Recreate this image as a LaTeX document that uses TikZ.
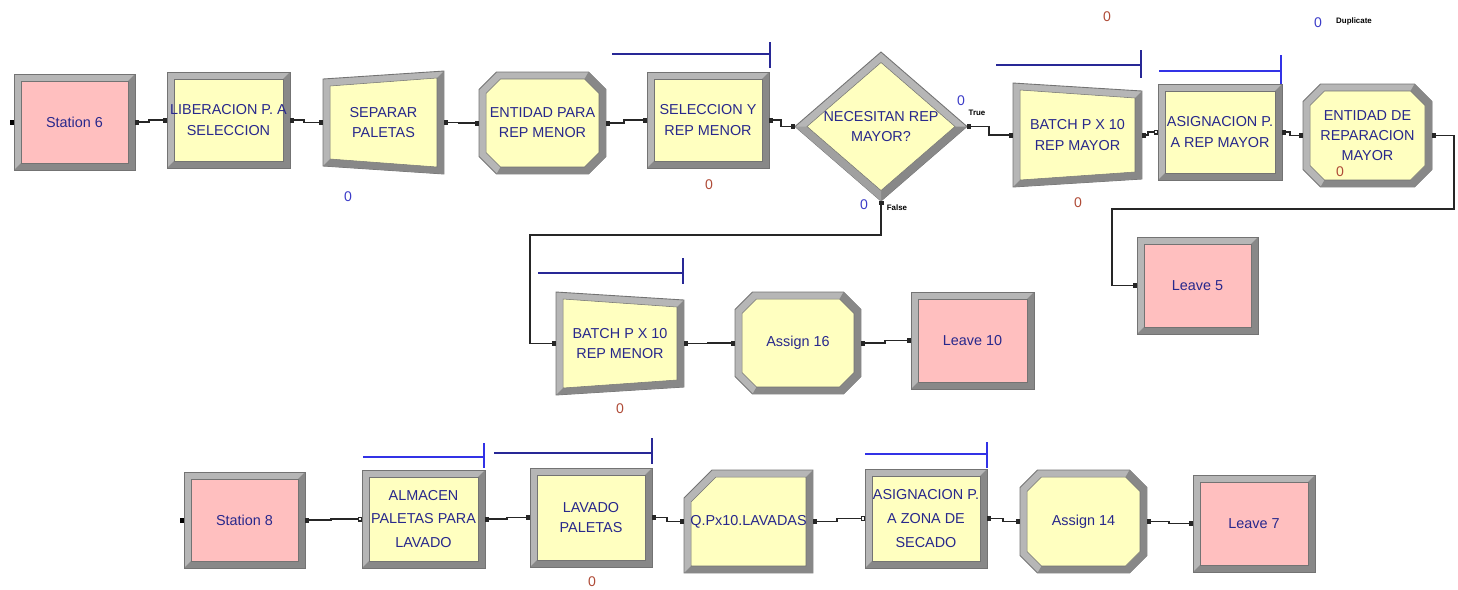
\documentclass[tikz,border=0pt]{standalone}
\usepackage{fontspec}
\setmainfont{Liberation Sans}
\usetikzlibrary{shapes.geometric,arrows.meta,backgrounds}

\definecolor{modpink}{RGB}{255,191,191}
\definecolor{modyellow}{RGB}{255,255,192}
\definecolor{modtext}{RGB}{40,40,140}
\definecolor{bvlite}{RGB}{182,182,182}
\definecolor{bvmid}{RGB}{160,160,160}
\definecolor{bvdark}{RGB}{136,136,136}
\definecolor{bvline}{RGB}{115,115,115}
\definecolor{qnavy}{RGB}{40,40,150}
\definecolor{qblue}{RGB}{50,50,230}
\definecolor{cntblue}{RGB}{60,60,200}
\definecolor{cntbrown}{RGB}{175,75,55}

\newcommand{\modfont}{\fontsize{8.2}{11.5}\selectfont}
\newcommand{\modfontwide}{\fontsize{8.2}{13.5}\selectfont}

% bevelled frames, drawn behind the named module nodes
\newcommand{\bevrect}[2]{%
  \fill[bvlite] (#1.south west) rectangle (#1.north east);
  \fill[bvdark] (#1.south west) -- (#1.south east) -- (#1.north east) -- ([shift={(-0.14cm,-0.14cm)}]#1.north east) -- ([shift={(-0.14cm,0.14cm)}]#1.south east) -- ([shift={(0.14cm,0.14cm)}]#1.south west) -- cycle;
  \filldraw[fill=#2, draw=bvline, line width=0.3pt] ([shift={(0.14cm,0.14cm)}]#1.south west) rectangle ([shift={(-0.14cm,-0.14cm)}]#1.north east);
  \draw[bvline, line width=0.5pt] (#1.south west) rectangle (#1.north east);}
\newcommand{\bevsep}[2]{%
  \filldraw[fill=bvlite, draw=bvline, line width=0.5pt] ([yshift=0.16cm]#1.south west) -- (#1.south east) -- (#1.north east) -- ([yshift=-0.16cm]#1.north west) -- cycle;
  \fill[bvdark] ([yshift=0.16cm]#1.south west) -- (#1.south east) -- (#1.north east) -- ([shift={(-0.14cm,-0.14cm)}]#1.north east) -- ([shift={(-0.14cm,0.14cm)}]#1.south east) -- ([shift={(0.14cm,0.30cm)}]#1.south west) -- cycle;
  \filldraw[fill=#2, draw=bvline, line width=0.3pt] ([shift={(0.14cm,0.30cm)}]#1.south west) -- ([shift={(-0.14cm,0.14cm)}]#1.south east) -- ([shift={(-0.14cm,-0.14cm)}]#1.north east) -- ([shift={(0.14cm,-0.30cm)}]#1.north west) -- cycle;}
\newcommand{\bevbatch}[2]{%
  \filldraw[fill=bvlite, draw=bvline, line width=0.5pt] (#1.south west) -- ([yshift=0.16cm]#1.south east) -- ([yshift=-0.16cm]#1.north east) -- (#1.north west) -- cycle;
  \fill[bvdark] (#1.south west) -- ([yshift=0.16cm]#1.south east) -- ([yshift=-0.16cm]#1.north east) -- ([shift={(-0.14cm,-0.30cm)}]#1.north east) -- ([shift={(-0.14cm,0.30cm)}]#1.south east) -- ([shift={(0.14cm,0.14cm)}]#1.south west) -- cycle;
  \filldraw[fill=#2, draw=bvline, line width=0.3pt] ([shift={(0.14cm,0.14cm)}]#1.south west) -- ([shift={(-0.14cm,0.30cm)}]#1.south east) -- ([shift={(-0.14cm,-0.30cm)}]#1.north east) -- ([shift={(0.14cm,-0.14cm)}]#1.north west) -- cycle;}
\newcommand{\bevoct}[2]{%
  \filldraw[fill=bvlite, draw=bvline, line width=0.5pt] ([xshift=0.35cm]#1.south west) -- ([xshift=-0.35cm]#1.south east) -- ([yshift=0.35cm]#1.south east) -- ([yshift=-0.35cm]#1.north east) -- ([xshift=-0.35cm]#1.north east) -- ([xshift=0.35cm]#1.north west) -- ([yshift=-0.35cm]#1.north west) -- ([yshift=0.35cm]#1.south west) -- cycle;
  \fill[bvdark] ([xshift=0.35cm]#1.south west) -- ([xshift=-0.35cm]#1.south east) -- ([yshift=0.35cm]#1.south east) -- ([yshift=-0.35cm]#1.north east) -- ([xshift=-0.35cm]#1.north east) -- ([shift={(-0.43cm,-0.14cm)}]#1.north east) -- ([shift={(-0.14cm,-0.43cm)}]#1.north east) -- ([shift={(-0.14cm,0.43cm)}]#1.south east) -- ([shift={(-0.43cm,0.14cm)}]#1.south east) -- ([shift={(0.43cm,0.14cm)}]#1.south west) -- cycle;
  \filldraw[fill=#2, draw=bvline, line width=0.3pt] ([shift={(0.43cm,0.14cm)}]#1.south west) -- ([shift={(-0.43cm,0.14cm)}]#1.south east) -- ([shift={(-0.14cm,0.43cm)}]#1.south east) -- ([shift={(-0.14cm,-0.43cm)}]#1.north east) -- ([shift={(-0.43cm,-0.14cm)}]#1.north east) -- ([shift={(0.43cm,-0.14cm)}]#1.north west) -- ([shift={(0.14cm,-0.43cm)}]#1.north west) -- ([shift={(0.14cm,0.43cm)}]#1.south west) -- cycle;}
\newcommand{\bevhold}[2]{%
  \filldraw[fill=bvlite, draw=bvline, line width=0.5pt] (#1.south west) -- (#1.south east) -- (#1.north east) -- ([xshift=0.56cm]#1.north west) -- ([yshift=-0.56cm]#1.north west) -- cycle;
  \fill[bvdark] (#1.south west) -- (#1.south east) -- (#1.north east) -- ([shift={(-0.14cm,-0.14cm)}]#1.north east) -- ([shift={(-0.14cm,0.14cm)}]#1.south east) -- ([shift={(0.14cm,0.14cm)}]#1.south west) -- cycle;
  \filldraw[fill=#2, draw=bvline, line width=0.3pt] ([shift={(0.14cm,0.14cm)}]#1.south west) -- ([shift={(-0.14cm,0.14cm)}]#1.south east) -- ([shift={(-0.14cm,-0.14cm)}]#1.north east) -- ([shift={(0.64cm,-0.14cm)}]#1.north west) -- ([shift={(0.14cm,-0.64cm)}]#1.north west) -- cycle;}
\newcommand{\bevdec}[2]{%
  \filldraw[fill=bvlite, draw=bvline, line width=0.5pt] (#1.south) -- (#1.east) -- (#1.north) -- (#1.west) -- cycle;
  \fill[bvdark] (#1.south) -- (#1.east) -- ([xshift=-0.24cm]#1.east) -- ([yshift=0.21cm]#1.south) -- cycle;
  \fill[bvmid] (#1.west) -- (#1.south) -- ([yshift=0.21cm]#1.south) -- ([xshift=0.24cm]#1.west) -- cycle;
  \filldraw[fill=#2, draw=bvline, line width=0.3pt] ([yshift=0.21cm]#1.south) -- ([xshift=-0.24cm]#1.east) -- ([yshift=-0.21cm]#1.north) -- ([xshift=0.24cm]#1.west) -- cycle;}

\tikzset{
  modnode/.style 2 args={font=\modfont, text=modtext, align=center, inner sep=0.5pt, outer sep=0pt, minimum width=#1cm, minimum height=#2cm},
  decnode/.style 2 args={modnode={#1}{#2}, diamond, aspect=1.15},
  conn/.style={black!85, line width=0.8pt, {Square[length=0.09cm,width=0.1cm]}-{Square[length=0.09cm,width=0.1cm]}},
  connopen/.style={black!85, line width=0.8pt, {Square[length=0.09cm,width=0.1cm]}-{Square[open,length=0.09cm,width=0.1cm]}},
  qline/.style={line width=0.8pt},
  countlbl/.style={font=\fontsize{8}{8}\selectfont, inner sep=0pt},
  pointlbl/.style={font=\fontsize{4.5}{5}\selectfont\bfseries, inner sep=0pt}
}

\begin{document}
\begin{tikzpicture}[x=0.02cm, y=-0.02cm]
\useasboundingbox (0,0) rectangle (1458,589);
% first line
\node[modnode={2.42}{1.92}] (st6) at (74.5,122) {Station 6};
\node[modnode={2.46}{1.92}] (lib) at (228.5,120) {LIBERACION P. A\\SELECCION};
\node[modnode={2.42}{2.06}] (sep) at (383.5,122.5) {SEPARAR\\PALETAS};
\node[modnode={2.54}{2.04}] (ent1) at (542.5,123) {ENTIDAD PARA\\REP MENOR};
\node[modnode={2.44}{1.92}] (sel) at (708,120) {SELECCION Y\\REP MENOR};
\node[decnode={3.44}{2.98}] (dec) at (881,126.5) {NECESITAN REP\\MAYOR?};
\node[modnode={2.58}{2.08}] (bat1) at (1077.5,135) {BATCH P X 10\\REP MAYOR};
\node[modnode={2.48}{1.92}] (asg1) at (1220,132) {ASIGNACION P.\\A REP MAYOR};
\node[modnode={2.58}{2.06}] (ent2) at (1367.5,135.5) {ENTIDAD DE\\REPARACION\\MAYOR};
\node[modnode={2.42}{1.94}] (lv5) at (1197.5,285.5) {Leave 5};
% second line
\node[modnode={2.56}{2.06}] (bat2) at (620,343.5) {BATCH P X 10\\REP MENOR};
\node[modnode={2.52}{2.04}] (as16) at (798,343) {Assign 16};
\node[modnode={2.46}{1.94}] (lv10) at (972.5,340.5) {Leave 10};
% third line
\node[modnode={2.42}{1.92}] (st8) at (244.5,520) {Station 8};
\node[modnode={2.46}{1.96}, font=\modfontwide] (alm) at (423.5,519) {ALMACEN\\PALETAS PARA\\LAVADO};
\node[modnode={2.44}{1.98}] (lav) at (591,517.5) {LAVADO\\PALETAS};
\node[modnode={2.58}{2.06}] (qpx) at (748.5,521.5) {Q.Px10.LAVADAS};
\node[modnode={2.44}{1.98}, font=\modfontwide] (asg2) at (926,518.5) {ASIGNACION P.\\A ZONA DE\\SECADO};
\node[modnode={2.54}{2.06}] (as14) at (1083.5,521.5) {Assign 14};
\node[modnode={2.44}{1.94}] (lv7) at (1254,523.5) {Leave 7};
% frames
\begin{scope}[on background layer]
\bevrect{st6}{modpink} \bevrect{lib}{modyellow} \bevsep{sep}{modyellow} \bevoct{ent1}{modyellow}
\bevrect{sel}{modyellow} \bevdec{dec}{modyellow} \bevbatch{bat1}{modyellow} \bevrect{asg1}{modyellow}
\bevoct{ent2}{modyellow} \bevrect{lv5}{modpink}
\bevbatch{bat2}{modyellow} \bevoct{as16}{modyellow} \bevrect{lv10}{modpink}
\bevrect{st8}{modpink} \bevrect{alm}{modyellow} \bevrect{lav}{modyellow} \bevhold{qpx}{modyellow}
\bevrect{asg2}{modyellow} \bevoct{as14}{modyellow} \bevrect{lv7}{modpink}
\end{scope}
% queues
\draw[qline, qnavy] (612,54) -- (770,54) (770,42) -- (770,68);
\draw[qline, qnavy] (996,65) -- (1141,65) (1141,50) -- (1141,78);
\draw[qline, qblue] (1159,71) -- (1281,71) (1281,55) -- (1281,84);
\draw[qline, qnavy] (538,273) -- (683,273) (683,258) -- (683,284);
\draw[qline, qblue] (363,457) -- (484,457) (484,443) -- (484,468);
\draw[qline, qnavy] (494,453) -- (652,453) (652,438) -- (652,464);
\draw[qline, qblue] (865,454) -- (987,454) (987,442) -- (987,468);
% entry points
\fill ([xshift=-0.09cm,yshift=-0.05cm]st6.west) rectangle ([xshift=-0.01cm,yshift=0.05cm]st6.west);
\fill ([xshift=-0.09cm,yshift=-0.05cm]st8.west) rectangle ([xshift=-0.01cm,yshift=0.05cm]st8.west);
% connectors
\draw[conn] (st6.east) -- ++(14,0) |- (lib.west);
\draw[conn] (lib.east) -- ++(14,0) |- (sep.west);
\draw[conn] (sep.east) -- ++(15,0) |- (ent1.west);
\draw[conn] (ent1.east) -- ++(18,0) |- (sel.west);
\draw[conn] (sel.east) -- ++(12,0) |- (dec.west);
\draw[conn] (dec.east) -- ++(22,0) |- (bat1.west);
\draw[connopen] (bat1.east) -- ++(6,0) |- (asg1.west);
\draw[conn] (asg1.east) -- ++(8,0) |- (ent2.west);
\draw[conn] (ent2.east) -- ++(22,0) |- (1112,209) |- (lv5.west);
\draw[conn] (dec.south) |- (530,235) |- (bat2.west);
\draw[conn] (bat2.east) -- ++(24,0) |- (as16.west);
\draw[conn] (as16.east) -- ++(24,0) |- (lv10.west);
\draw[connopen] (st8.east) -- ++(26,0) |- (alm.west);
\draw[conn] (alm.east) -- ++(22,0) |- (lav.west);
\draw[conn] (lav.east) -- ++(15,0) |- (qpx.west);
\draw[connopen] (qpx.east) -- ++(24,0) |- (asg2.west);
\draw[conn] (asg2.east) -- ++(16,0) |- (as14.west);
\draw[conn] (as14.east) -- ++(22,0) |- (lv7.west);
% counters and point labels
\node[countlbl, text=cntblue] (n1) at (348,197) {0};
\node[countlbl, text=cntbrown] (n2) at (709,185) {0};
\node[countlbl, text=cntblue] (n3) at (961,101) {0};
\node[countlbl, text=cntblue] (n4) at (864,205) {0};
\node[countlbl, text=cntbrown] (n5) at (1078,203) {0};
\node[countlbl, text=cntbrown] (n6) at (1340,172) {0};
\node[countlbl, text=cntbrown] (n7) at (1107,17) {0};
\node[countlbl, text=cntblue] (n8) at (1318,23) {0};
\node[countlbl, text=cntbrown] (n9) at (620,409) {0};
\node[countlbl, text=cntbrown] (n10) at (592,582) {0};
\node[pointlbl] (ptrue) at (977,113) {True};
\node[pointlbl] (pfalse) at (897,208) {False};
\node[pointlbl] (pdup) at (1354,21) {Duplicate};
\end{tikzpicture}
\end{document}
